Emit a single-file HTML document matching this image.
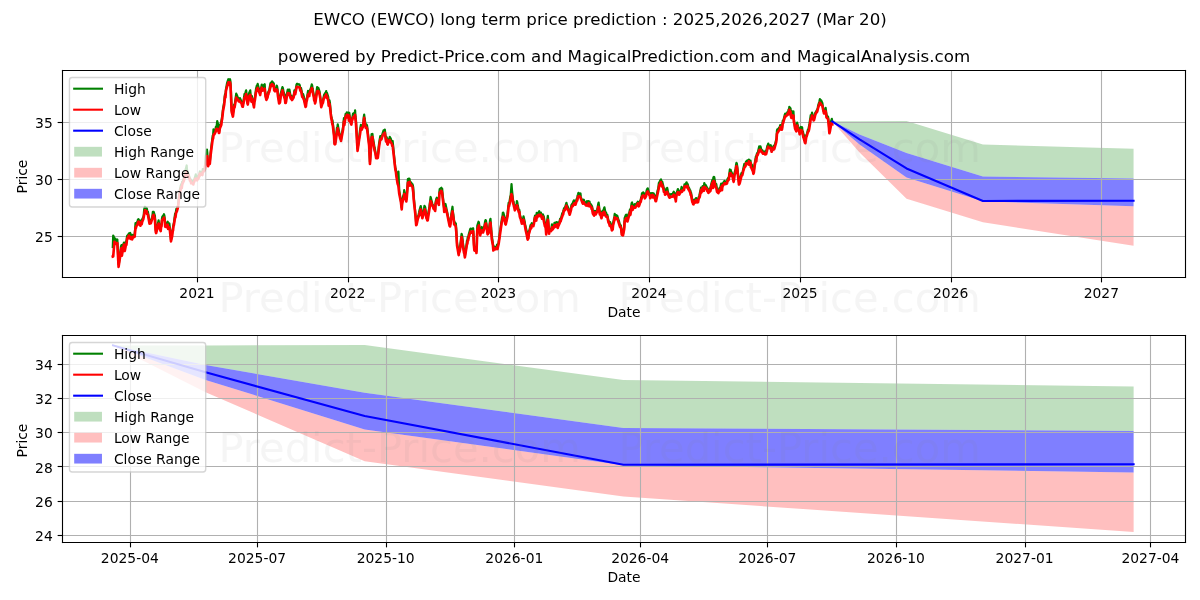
<!DOCTYPE html>
<html lang="en"><head><meta charset="utf-8"><title>EWCO (EWCO) long term price prediction</title>
<style>html,body{margin:0;padding:0;background:#fff;overflow:hidden}body{width:1200px;height:600px;font-family:"DejaVu Sans","Liberation Sans",sans-serif}</style>
</head><body>
<svg width="1200" height="600" viewBox="0 0 864 432" style="display:block">
 <defs>
  <style type="text/css">*{stroke-linejoin: round; stroke-linecap: butt}</style>
 </defs>
 <g id="figure_1">
  <g id="patch_1">
   <path d="M 0 432 L 864 432 L 864 0 L 0 0 z" style="fill: #ffffff"/>
  </g>
  <g id="axes_1">
   <g id="patch_2">
    <path d="M 45 199.8 L 853.56 199.8 L 853.56 50.76 L 45 50.76 z" style="fill: #ffffff"/>
   </g>
   <g id="FillBetweenPolyCollection_1">
    <path d="M 599.216895 87.383032 L 599.216895 87.383032 L 618.882944 96.847326 L 652.704892 110.106947 L 707.700101 127.065811 L 816.1663 128.459032 L 816.1663 107.080295 L 816.1663 107.080295 L 707.700101 104.0056 L 652.704892 87.190863 L 618.882944 87.383032 L 599.216895 87.383032 z" clip-path="url(#p7041bff4be)" style="fill: #008000; fill-opacity: 0.25"/>
   </g>
   <g id="FillBetweenPolyCollection_2">
    <path d="M 599.216895 87.383032 L 599.216895 87.383032 L 618.882944 109.866737 L 652.704892 143.015789 L 707.700101 159.974653 L 816.1663 177.0296 L 816.1663 148.444547 L 816.1663 148.444547 L 707.700101 144.985516 L 652.704892 127.786442 L 618.882944 103.957558 L 599.216895 87.383032 z" clip-path="url(#p7041bff4be)" style="fill: #ff0000; fill-opacity: 0.25"/>
   </g>
   <g id="FillBetweenPolyCollection_3">
    <path d="M 599.216895 87.383032 L 599.216895 87.383032 L 618.882944 103.957558 L 652.704892 127.786442 L 707.700101 144.985516 L 816.1663 148.444547 L 816.1663 128.459032 L 816.1663 128.459032 L 707.700101 127.065811 L 652.704892 110.106947 L 618.882944 96.847326 L 599.216895 87.383032 z" clip-path="url(#p7041bff4be)" style="fill: #0000ff; fill-opacity: 0.5"/>
   </g>
   <g id="matplotlib.axis_1">
    <g id="xtick_1">
     <g id="line2d_1">
      <path d="M 142.2 199.8 L 142.2 50.76" clip-path="url(#p7041bff4be)" style="fill: none; stroke: #b0b0b0; stroke-width: 0.8; stroke-linecap: square"/>
     </g>
     <g id="line2d_2">
      <defs>
       <path id="ma3ecc90616" d="M 0 0 L 0 3.5" style="stroke: #000000; stroke-width: 0.8"/>
      </defs>
      <g>
       <use href="#ma3ecc90616" x="142.2" y="199.8" style="stroke: #000000; stroke-width: 0.8"/>
      </g>
     </g>
     <g id="text_1">
      <text style="font-size: 10px; font-family: 'DejaVu Sans', 'Liberation Sans', sans-serif; text-anchor: middle" x="141.84" y="214.398438" transform="rotate(0 141.84 214.398438)">2021</text>
     </g>
    </g>
    <g id="xtick_2">
     <g id="line2d_3">
      <path d="M 250.92 199.8 L 250.92 50.76" clip-path="url(#p7041bff4be)" style="fill: none; stroke: #b0b0b0; stroke-width: 0.8; stroke-linecap: square"/>
     </g>
     <g id="line2d_4">
      <g>
       <use href="#ma3ecc90616" x="250.92" y="199.8" style="stroke: #000000; stroke-width: 0.8"/>
      </g>
     </g>
     <g id="text_2">
      <text style="font-size: 10px; font-family: 'DejaVu Sans', 'Liberation Sans', sans-serif; text-anchor: middle" x="250.314702" y="214.398438" transform="rotate(0 250.314702 214.398438)">2022</text>
     </g>
    </g>
    <g id="xtick_3">
     <g id="line2d_5">
      <path d="M 358.92 199.8 L 358.92 50.76" clip-path="url(#p7041bff4be)" style="fill: none; stroke: #b0b0b0; stroke-width: 0.8; stroke-linecap: square"/>
     </g>
     <g id="line2d_6">
      <g>
       <use href="#ma3ecc90616" x="358.92" y="199.8" style="stroke: #000000; stroke-width: 0.8"/>
      </g>
     </g>
     <g id="text_3">
      <text style="font-size: 10px; font-family: 'DejaVu Sans', 'Liberation Sans', sans-serif; text-anchor: middle" x="358.789405" y="214.398438" transform="rotate(0 358.789405 214.398438)">2023</text>
     </g>
    </g>
    <g id="xtick_4">
     <g id="line2d_7">
      <path d="M 467.64 199.8 L 467.64 50.76" clip-path="url(#p7041bff4be)" style="fill: none; stroke: #b0b0b0; stroke-width: 0.8; stroke-linecap: square"/>
     </g>
     <g id="line2d_8">
      <g>
       <use href="#ma3ecc90616" x="467.64" y="199.8" style="stroke: #000000; stroke-width: 0.8"/>
      </g>
     </g>
     <g id="text_4">
      <text style="font-size: 10px; font-family: 'DejaVu Sans', 'Liberation Sans', sans-serif; text-anchor: middle" x="467.264107" y="214.398438" transform="rotate(0 467.264107 214.398438)">2024</text>
     </g>
    </g>
    <g id="xtick_5">
     <g id="line2d_9">
      <path d="M 576.36 199.8 L 576.36 50.76" clip-path="url(#p7041bff4be)" style="fill: none; stroke: #b0b0b0; stroke-width: 0.8; stroke-linecap: square"/>
     </g>
     <g id="line2d_10">
      <g>
       <use href="#ma3ecc90616" x="576.36" y="199.8" style="stroke: #000000; stroke-width: 0.8"/>
      </g>
     </g>
     <g id="text_5">
      <text style="font-size: 10px; font-family: 'DejaVu Sans', 'Liberation Sans', sans-serif; text-anchor: middle" x="576.036" y="214.398438" transform="rotate(0 576.036 214.398438)">2025</text>
     </g>
    </g>
    <g id="xtick_6">
     <g id="line2d_11">
      <path d="M 685.08 199.8 L 685.08 50.76" clip-path="url(#p7041bff4be)" style="fill: none; stroke: #b0b0b0; stroke-width: 0.8; stroke-linecap: square"/>
     </g>
     <g id="line2d_12">
      <g>
       <use href="#ma3ecc90616" x="685.08" y="199.8" style="stroke: #000000; stroke-width: 0.8"/>
      </g>
     </g>
     <g id="text_6">
      <text style="font-size: 10px; font-family: 'DejaVu Sans', 'Liberation Sans', sans-serif; text-anchor: middle" x="684.510702" y="214.398438" transform="rotate(0 684.510702 214.398438)">2026</text>
     </g>
    </g>
    <g id="xtick_7">
     <g id="line2d_13">
      <path d="M 793.08 199.8 L 793.08 50.76" clip-path="url(#p7041bff4be)" style="fill: none; stroke: #b0b0b0; stroke-width: 0.8; stroke-linecap: square"/>
     </g>
     <g id="line2d_14">
      <g>
       <use href="#ma3ecc90616" x="793.08" y="199.8" style="stroke: #000000; stroke-width: 0.8"/>
      </g>
     </g>
     <g id="text_7">
      <text style="font-size: 10px; font-family: 'DejaVu Sans', 'Liberation Sans', sans-serif; text-anchor: middle" x="792.985405" y="214.398438" transform="rotate(0 792.985405 214.398438)">2027</text>
     </g>
    </g>
    <g id="text_8">
     <text style="font-size: 10px; font-family: 'DejaVu Sans', 'Liberation Sans', sans-serif; text-anchor: middle" x="449.28" y="228.076562" transform="rotate(0 449.28 228.076562)">Date</text>
    </g>
   </g>
   <g id="matplotlib.axis_2">
    <g id="ytick_1">
     <g id="line2d_15">
      <path d="M 45 170.28 L 853.56 170.28" clip-path="url(#p7041bff4be)" style="fill: none; stroke: #b0b0b0; stroke-width: 0.8; stroke-linecap: square"/>
     </g>
     <g id="line2d_16">
      <defs>
       <path id="mb44dbf841d" d="M 0 0 L -3.5 0" style="stroke: #000000; stroke-width: 0.8"/>
      </defs>
      <g>
       <use href="#mb44dbf841d" x="45" y="170.28" style="stroke: #000000; stroke-width: 0.8"/>
      </g>
     </g>
     <g id="text_9">
      <text style="font-size: 10px; font-family: 'DejaVu Sans', 'Liberation Sans', sans-serif; text-anchor: end" x="38" y="174.439219" transform="rotate(0 38 174.439219)">25</text>
     </g>
    </g>
    <g id="ytick_2">
     <g id="line2d_17">
      <path d="M 45 129.24 L 853.56 129.24" clip-path="url(#p7041bff4be)" style="fill: none; stroke: #b0b0b0; stroke-width: 0.8; stroke-linecap: square"/>
     </g>
     <g id="line2d_18">
      <g>
       <use href="#mb44dbf841d" x="45" y="129.24" style="stroke: #000000; stroke-width: 0.8"/>
      </g>
     </g>
     <g id="text_10">
      <text style="font-size: 10px; font-family: 'DejaVu Sans', 'Liberation Sans', sans-serif; text-anchor: end" x="38" y="133.363219" transform="rotate(0 38 133.363219)">30</text>
     </g>
    </g>
    <g id="ytick_3">
     <g id="line2d_19">
      <path d="M 45 88.2 L 853.56 88.2" clip-path="url(#p7041bff4be)" style="fill: none; stroke: #b0b0b0; stroke-width: 0.8; stroke-linecap: square"/>
     </g>
     <g id="line2d_20">
      <g>
       <use href="#mb44dbf841d" x="45" y="88.2" style="stroke: #000000; stroke-width: 0.8"/>
      </g>
     </g>
     <g id="text_11">
      <text style="font-size: 10px; font-family: 'DejaVu Sans', 'Liberation Sans', sans-serif; text-anchor: end" x="38" y="92.287219" transform="rotate(0 38 92.287219)">35</text>
     </g>
    </g>
    <g id="text_12">
     <g transform="translate(0.504 1.8)"><text style="font-size: 10px; font-family: 'DejaVu Sans', 'Liberation Sans', sans-serif; text-anchor: middle" x="19.195312" y="125.28" transform="rotate(-90 19.195312 125.28)">Price</text></g>
    </g>
   </g>
   <g id="line2d_21">
    <path d="M 81.213043 177.87816 L 81.510234 169.56 L 82.401807 171.873031 L 82.698998 173.25122 L 82.996189 171.728082 L 83.29338 173.214513 L 83.590571 173.558994 L 84.482144 172.453961 L 85.373717 190.319503 L 85.670908 189.184708 L 87.156862 177.210491 L 87.454053 176.461878 L 87.751244 182.900823 L 88.642817 175.991776 L 88.940008 176.193076 L 89.237199 174.658907 L 89.53439 178.791252 L 89.831581 178.728688 L 90.723154 173.873714 L 91.020345 174.784109 L 91.317536 171.110175 L 91.614727 169.599155 L 91.911918 169.541541 L 92.803491 168.107914 L 93.100682 169.879905 L 93.397873 168.155275 L 93.695064 167.701056 L 93.992255 170.75228 L 94.883828 169.017402 L 95.181018 170.691356 L 95.478209 169.344325 L 95.7754 169.757149 L 96.072591 169.524287 L 96.964164 168.44899 L 97.261355 165.37381 L 97.558546 160.704256 L 97.855737 162.624747 L 98.152928 161.176146 L 99.044501 159.227581 L 99.341692 158.106261 L 99.638883 157.791617 L 99.936074 158.183241 L 100.233265 159.84174 L 101.124838 161.112413 L 101.422029 159.249477 L 101.71922 158.416203 L 102.016411 159.662987 L 102.313602 158.077858 L 103.205175 156.229059 L 103.502366 154.885379 L 103.799556 150.973295 L 104.096747 149.583486 L 104.393938 148.85954 L 105.285511 149.779241 L 105.582702 149.877892 L 105.879893 150.963554 L 106.177084 152.687163 L 106.474275 152.450843 L 107.663039 159.739818 L 107.96023 158.411351 L 108.257421 159.487458 L 108.554612 159.562311 L 109.743376 155.557502 L 110.040567 152.519348 L 110.337758 153.941304 L 110.634949 152.514769 L 111.526522 155.441149 L 112.120903 165.669779 L 112.418094 166.496228 L 112.715285 165.648267 L 114.20124 158.62902 L 114.795622 162.630546 L 115.687195 164.252727 L 115.984386 161.510521 L 116.281577 161.702897 L 116.578768 157.628561 L 116.875959 156.033246 L 117.767532 154.946031 L 118.064723 154.242686 L 118.361914 155.174437 L 118.659105 157.64362 L 118.956296 161.491746 L 119.847869 162.483956 L 120.14506 160.650397 L 120.442251 160.329699 L 120.739441 159.64186 L 121.036632 162.525955 L 121.928205 160.854745 L 122.819778 168.831528 L 123.116969 172.714803 L 124.900115 161.727099 L 125.197306 160.603506 L 126.088879 153.823101 L 126.38607 154.202672 L 126.980452 150.425397 L 127.277643 151.272685 L 128.169216 147.818839 L 128.763598 141.978567 L 129.060789 140.437776 L 129.357979 137.53744 L 130.249552 133.454535 L 130.546743 132.669221 L 130.843934 133.786449 L 131.141125 130.995323 L 131.438316 131.016868 L 132.329889 128.336286 L 132.62708 126.756871 L 132.924271 126.330626 L 133.221462 125.69408 L 133.518653 122.612276 L 134.410226 119.16 L 134.707417 123.05674 L 135.004608 123.347489 L 135.59899 124.946313 L 136.787754 128.729441 L 137.084945 128.872265 L 137.382136 129.321985 L 137.679326 130.43922 L 138.570899 130.570612 L 138.86809 130.207156 L 139.165281 131.868778 L 139.462472 129.611796 L 139.759663 129.888069 L 140.948427 125.589369 L 141.245618 127.565202 L 141.542809 128.19485 L 141.84 128.513893 L 142.731573 126.497569 L 143.028764 126.908524 L 143.623146 124.699748 L 143.920337 123.455113 L 144.81191 123.940586 L 145.406292 124.809385 L 145.703483 123.9329 L 146.000674 121.796221 L 146.892246 121.904994 L 147.189437 121.728001 L 147.486628 120.746445 L 147.783819 117.775343 L 148.08101 112.757299 L 148.972583 107.64 L 149.269774 110.01169 L 149.566965 115.846672 L 149.864156 118.421323 L 150.161347 117.443704 L 151.05292 116.775 L 151.647302 109.860845 L 153.133257 97.688342 L 153.430448 97.686007 L 153.727639 93.094598 L 154.322021 95.490889 L 155.213593 92.532893 L 155.510784 91.086859 L 155.807975 92.49584 L 156.402357 87.12 L 157.29393 90.728262 L 157.591121 94.669722 L 157.888312 94.075259 L 158.185503 91.365918 L 159.374267 87.394614 L 160.26584 81.429827 L 160.563031 78.347078 L 161.454604 73.203168 L 161.751795 69.743073 L 162.048986 67.701104 L 162.346177 68.539979 L 162.643368 64.592393 L 163.53494 59.584468 L 164.426513 57.024 L 164.723704 58.886979 L 165.615277 57.024 L 165.912468 58.51057 L 166.209659 62.992295 L 166.804041 79.663319 L 167.695614 81.445142 L 168.289996 78.210509 L 168.587187 75.36818 L 168.884378 76.307954 L 170.073142 67.38416 L 170.370333 68.894354 L 170.667524 68.517792 L 170.964715 69.772193 L 171.856287 71.406978 L 172.153478 71.404609 L 172.450669 71.599675 L 172.74786 70.689922 L 173.045051 71.16556 L 174.531006 74.786325 L 174.828197 75.022686 L 175.125388 74.2362 L 176.016961 67.780399 L 176.314152 67.671649 L 176.611343 67.369056 L 176.908534 65.960367 L 177.205725 65.102629 L 178.097298 72.965093 L 178.394489 74.111189 L 178.69168 72.515277 L 179.286062 67.276447 L 180.177634 65.026741 L 180.772016 71.574486 L 181.366398 69.211825 L 182.852353 75.948774 L 183.149544 72.350324 L 183.446735 71.047651 L 184.338308 63.94756 L 184.93269 61.632049 L 185.229881 61.576089 L 185.527072 60.436149 L 186.715836 65.059807 L 187.310218 66.927956 L 188.498982 60.855255 L 188.796172 63.27448 L 189.093363 62.738188 L 189.390554 63.403926 L 189.687745 61.637062 L 190.579318 60.66177 L 190.876509 65.475162 L 191.1737 68.068583 L 191.470891 69.085849 L 191.768082 70.900234 L 192.659655 68.488675 L 192.956846 66.552395 L 193.254037 66.830319 L 193.551228 65.339267 L 193.848419 65.026508 L 194.739992 59.960945 L 195.037183 59.488701 L 195.334374 60.296769 L 195.631565 60.057192 L 195.928756 58.602639 L 197.11752 60.015899 L 197.41471 63.85509 L 197.711901 63.29762 L 198.009092 63.823974 L 198.900665 63.37298 L 199.197856 61.62841 L 199.495047 62.184021 L 199.792238 63.918225 L 200.089429 66.519381 L 200.981002 72.661063 L 201.278193 73.139355 L 201.872575 70.442052 L 202.169766 67.10697 L 203.35853 62.72412 L 203.655721 63.406447 L 204.250103 66.536756 L 205.141676 69.142358 L 205.438867 73.140503 L 205.736057 72.998875 L 206.033248 71.248165 L 206.330439 68.607188 L 207.222012 64.485827 L 207.519203 65.58604 L 207.816394 65.911509 L 208.113585 64.543548 L 208.410776 64.587117 L 209.302349 69.84197 L 209.59954 68.744179 L 210.193922 70.500345 L 211.382686 69.168824 L 211.679877 67.4464 L 211.977068 65.000343 L 212.274259 65.156192 L 212.57145 66.69837 L 213.463023 61.070432 L 213.760214 60.418089 L 214.057405 60.326325 L 214.354595 60.367346 L 214.651786 60.830995 L 215.543359 60.826991 L 215.84055 61.518341 L 216.137741 63.481351 L 216.434932 63.970477 L 216.732123 63.360637 L 217.920887 69.020392 L 218.218078 67.78678 L 218.81246 69.66745 L 220.001224 75.730121 L 220.298415 74.892131 L 220.595606 71.619903 L 220.892797 71.222754 L 221.78437 65.419745 L 222.081561 66.127848 L 222.378752 66.20832 L 222.675943 67.002569 L 222.973133 65.559849 L 223.864706 63.393368 L 224.459088 60.769772 L 224.756279 61.500473 L 225.05347 63.750671 L 226.242234 70.189769 L 226.539425 70.038345 L 226.836616 72.941019 L 227.133807 72.012245 L 228.322571 62.802431 L 228.619762 64.091499 L 228.916953 64.624298 L 229.214144 63.184444 L 230.105717 65.897692 L 231.29448 75.652741 L 232.483244 72.466069 L 233.374817 68.259885 L 234.26639 66.809857 L 234.563581 66.676852 L 234.860772 65.553242 L 235.157963 68.662826 L 235.455154 66.92693 L 236.346727 69.886498 L 236.643918 73.589614 L 236.941109 72.10321 L 237.2383 72.332957 L 237.535491 74.011484 L 238.427064 83.635931 L 238.724255 84.521192 L 239.021446 86.727585 L 239.318637 86.420321 L 239.615828 88.254422 L 240.5074 96.691461 L 240.804591 102.241472 L 241.101782 102.65508 L 241.398973 102.62275 L 241.696164 100.39988 L 242.587737 92.120928 L 242.884928 92.060107 L 243.182119 89.548187 L 243.776501 92.942825 L 244.965265 99.002971 L 245.262456 98.580553 L 245.559647 100.281336 L 245.856838 98.039766 L 247.045602 91.132162 L 247.639984 85.0183 L 247.937175 88.374754 L 248.828747 82.120984 L 249.125938 81.953026 L 249.423129 82.023527 L 249.72032 80.926584 L 250.017511 83.418216 L 250.909084 81.026884 L 251.206275 84.638916 L 251.503466 81.246644 L 252.097848 86.604472 L 252.989421 88.344848 L 253.583803 84.860581 L 253.880994 83.813704 L 254.178185 81.84294 L 255.069758 81.293689 L 255.366949 82.30268 L 255.66414 79.446376 L 255.961331 84.036509 L 256.258522 85.87748 L 257.447285 107.121588 L 258.041667 103.588417 L 259.230431 93.472845 L 259.824813 89.868528 L 260.419195 91.496469 L 261.310768 89.912083 L 261.607959 87.79031 L 261.90515 84.36004 L 262.202341 82.508224 L 262.499532 85.330225 L 263.391105 90.82882 L 263.688296 90.160164 L 263.985487 89.772386 L 264.282678 90.48243 L 264.579869 92.79077 L 265.768632 103.604686 L 266.363014 116.68316 L 266.660205 112.644927 L 267.551778 96.650392 L 267.848969 96.875871 L 268.14616 96.379367 L 268.443351 99.495173 L 268.740542 100.344268 L 269.632115 106.090028 L 269.929306 107.219215 L 270.820879 112.585144 L 271.712452 111.988811 L 272.009643 112.639514 L 272.604025 106.362029 L 272.901216 103.445193 L 273.792789 98.051557 L 274.089979 98.015347 L 274.684361 98.968256 L 274.981552 97.758268 L 276.170316 93.843515 L 276.467507 94.2254 L 276.764698 93.626998 L 277.061889 93.310498 L 277.953462 100.531121 L 278.250653 98.511622 L 278.547844 99.227969 L 278.845035 101.807729 L 279.142226 103.097995 L 280.033799 100.16635 L 280.33099 99.898112 L 280.628181 98.537075 L 280.925372 99.545038 L 281.222563 99.474333 L 282.114136 102.280622 L 282.411326 102.254669 L 282.708517 101.604631 L 284.491663 119.598439 L 284.788854 121.555106 L 285.086045 122.720615 L 286.274809 130.596575 L 286.572 128.265686 L 286.869191 123.48 L 287.463573 137.242393 L 288.652337 144.464389 L 289.246719 149.542864 L 289.54391 145.240055 L 290.435483 140.560819 L 290.732674 140.379986 L 291.029864 136.947573 L 291.624246 140.034075 L 292.515819 143.451938 L 292.81301 141.897579 L 293.704583 128.963238 L 294.596156 128.637512 L 294.893347 128.916959 L 295.190538 131.94746 L 295.487729 131.44424 L 295.78492 131.183478 L 296.676493 132.504363 L 296.973684 132.614547 L 297.270875 133.562714 L 297.568066 135.283618 L 297.865257 140.966355 L 299.351211 156.67901 L 299.648402 160.601457 L 299.945593 160.078798 L 300.837166 155.707277 L 301.134357 155.714235 L 301.728739 152.950377 L 302.02593 151.390336 L 302.917503 148.359436 L 303.214694 149.893489 L 303.511885 153.793666 L 303.809076 154.229334 L 304.106267 155.866051 L 305.295031 150.296905 L 305.592222 148.180222 L 306.186604 149.296 L 307.078177 156.387188 L 307.375368 154.915822 L 307.672559 157.723952 L 307.969749 157.313619 L 308.26694 154.052556 L 309.158513 148.933745 L 309.752895 144.064681 L 310.050086 141.824704 L 311.23885 146.600747 L 311.833232 147.921874 L 312.130423 149.14121 L 312.427614 148.388828 L 313.319187 150.919627 L 313.616378 145.522891 L 314.21076 142.89938 L 314.507951 142.358845 L 315.399524 144.270932 L 315.696715 145.739797 L 315.993906 145.899939 L 316.291097 138.586884 L 316.588287 136.165143 L 317.777051 135.184723 L 318.074242 135.798324 L 318.371433 135.913698 L 318.668624 139.645593 L 319.857388 151.10792 L 320.45177 147.699979 L 320.748961 146.879053 L 322.234916 153.982641 L 322.829298 156.948249 L 323.720871 161.379655 L 324.018062 161.746713 L 324.315253 160.257114 L 324.612444 157.91784 L 324.909634 154.406021 L 325.801207 148.850368 L 326.098398 152.471936 L 326.395589 154.188118 L 326.989971 159.351333 L 327.881544 160.808296 L 328.178735 160.781571 L 328.475926 164.169968 L 329.070308 175.311627 L 329.961881 179.741359 L 330.259072 182.622401 L 330.556263 180.205883 L 330.853454 180.138684 L 331.150645 178.53893 L 332.339409 168.354846 L 332.6366 169.265556 L 332.933791 170.908212 L 333.230982 174.241231 L 334.122554 180.476104 L 334.419745 180.793959 L 334.716936 184.358167 L 335.014127 181.903366 L 335.311318 180.931807 L 336.202891 173.176304 L 336.500082 173.137056 L 336.797273 170.817121 L 337.094464 171.764568 L 337.391655 169.298828 L 338.580419 164.93212 L 338.87761 164.615676 L 339.174801 164.646727 L 339.471992 165.169602 L 340.363565 165.542825 L 340.660756 164.343466 L 340.957947 168.872375 L 341.255138 175.970046 L 341.552329 179.319929 L 342.443901 179.551994 L 342.741092 178.100818 L 343.038283 180.782735 L 343.335474 174.244104 L 343.632665 162.665481 L 344.524238 159.659227 L 344.821429 160.147315 L 345.713002 168.176853 L 346.604575 163.909961 L 346.901766 163.472981 L 347.198957 164.894767 L 347.496148 165.254326 L 347.793339 166.05919 L 348.684912 162.955053 L 349.279294 159.413874 L 349.576485 158.415629 L 349.873676 158.712577 L 351.062439 166.812959 L 351.35963 167.334838 L 351.656821 165.711755 L 351.954012 166.189997 L 352.845585 158.548969 L 353.142776 157.521115 L 354.034349 169.056739 L 355.223113 177.854713 L 355.520304 178.052581 L 355.817495 177.429546 L 356.114686 178.066405 L 357.006259 177.768318 L 357.30345 177.394614 L 357.600641 177.42494 L 357.897832 176.071975 L 358.195023 178.35495 L 359.086595 174.125664 L 359.978168 166.574947 L 360.275359 165.214939 L 361.464123 156.7999 L 361.761314 155.922991 L 362.058505 153.156365 L 362.355696 153.060253 L 363.247269 156.114881 L 363.54446 158.390549 L 363.841651 159.448088 L 364.138842 159.87352 L 364.436033 159.129865 L 365.327606 154.781717 L 366.219179 146.101632 L 366.51637 147.416781 L 367.407943 141.532334 L 367.705133 140.687039 L 368.299515 132.48 L 368.596706 136.502491 L 369.488279 145.092746 L 369.78547 145.101688 L 370.082661 147.82174 L 370.379852 148.355847 L 370.677043 150.398479 L 371.568616 147.610656 L 371.865807 147.856627 L 372.162998 144.75148 L 372.460189 145.728353 L 372.75738 147.80921 L 373.648953 151.876126 L 373.946144 151.253357 L 374.243335 154.465399 L 374.540526 155.088505 L 374.837717 156.426808 L 376.02648 159.39572 L 376.323671 159.269048 L 376.918053 155.772603 L 377.809626 159.789695 L 378.106817 161.91271 L 378.404008 162.796252 L 378.99839 165.629683 L 379.889963 171.467316 L 380.187154 170.754485 L 380.484345 169.458854 L 380.781536 166.474942 L 381.078727 166.450785 L 381.9703 162.242771 L 382.267491 161.692109 L 382.564682 161.792701 L 382.861873 160.726287 L 383.159064 161.444295 L 384.050637 161.47293 L 384.347828 160.524626 L 384.645018 158.215587 L 385.2394 155.19925 L 386.130973 156.373433 L 386.428164 153.33785 L 387.022546 154.939218 L 387.319737 153.685533 L 388.21131 152.045958 L 388.508501 153.613373 L 388.805692 153.24139 L 389.102883 153.753392 L 389.400074 153.057654 L 390.291647 156.459278 L 390.588838 154.835349 L 390.886029 154.392628 L 391.18322 155.328657 L 391.480411 155.723155 L 392.371984 161.141207 L 392.669175 162.131765 L 392.966366 161.933325 L 393.263556 167.340817 L 393.560747 161.701137 L 394.45232 155.342944 L 394.749511 158.573956 L 395.343893 166.94268 L 395.641084 164.61842 L 396.532657 165.145806 L 396.829848 164.904281 L 397.127039 163.746201 L 397.42423 161.492469 L 397.721421 164.271056 L 398.612994 162.666253 L 398.910185 162.455644 L 399.207376 160.433261 L 399.504567 160.835514 L 399.801758 160.409235 L 400.990522 159.919609 L 401.584903 162.351552 L 401.882094 161.815654 L 403.070858 158.637036 L 403.368049 157.377631 L 403.66524 157.931583 L 403.962431 157.042274 L 404.854004 153.583233 L 405.151195 153.39848 L 405.745577 151.647269 L 406.042768 150.056428 L 406.934341 149.02536 L 407.825914 146.026992 L 408.123105 147.429435 L 409.014678 149.3659 L 409.60906 151.552719 L 409.906251 152.135647 L 410.203441 153.247252 L 411.095014 149.85967 L 411.392205 147.727132 L 411.986587 146.818374 L 412.283778 146.37362 L 413.175351 144.273954 L 413.769733 145.450057 L 414.066924 144.64509 L 414.364115 145.995965 L 415.255688 143.109786 L 415.552879 143.369369 L 415.85007 140.912129 L 416.147261 140.080514 L 416.444452 138.88407 L 417.336025 139.812237 L 417.633216 139.395989 L 417.930407 139.291018 L 418.227598 141.770661 L 418.524789 143.08245 L 419.416361 144.120715 L 419.713552 145.173506 L 420.307934 143.763895 L 420.605125 144.519177 L 421.496698 146.059624 L 421.793889 145.849261 L 422.388271 146.866504 L 422.685462 144.754653 L 423.577035 146.754748 L 423.874226 144.826493 L 424.171417 145.5822 L 424.468608 145.235103 L 424.765799 146.933572 L 425.657372 147.330517 L 425.954563 148.800826 L 426.251754 148.441853 L 426.846136 151.778637 L 427.737708 154.095696 L 428.034899 152.485749 L 428.33209 151.763054 L 428.629281 152.147125 L 428.926472 153.003163 L 429.818045 151.545337 L 430.115236 150.564856 L 430.709618 146.900252 L 431.006809 145.812804 L 431.898382 153.472935 L 432.195573 152.172225 L 433.087146 155.891327 L 433.978719 151.583901 L 434.27591 153.020552 L 434.573101 152.4828 L 434.870292 150.060106 L 435.167483 149.2665 L 436.059055 153.67476 L 436.356246 153.007094 L 436.653437 154.418202 L 436.950628 154.903086 L 437.247819 154.653282 L 438.139392 159.138965 L 438.436583 159.347465 L 438.733774 160.549109 L 439.328156 159.914157 L 440.219729 162.856538 L 440.51692 164.528988 L 440.814111 163.565009 L 441.111302 163.641766 L 441.408493 160.695517 L 442.300066 156.216513 L 442.597257 154.062282 L 442.894448 155.943794 L 443.48883 154.84019 L 444.380402 155.301712 L 445.271975 158.247775 L 445.569166 158.826634 L 446.460739 162.321428 L 446.75793 162.026644 L 447.055121 162.57549 L 447.352312 164.630282 L 447.649503 167.594126 L 448.541076 168.517322 L 449.135458 164.80774 L 449.432649 163.454618 L 449.72984 157.070721 L 450.621413 154.823822 L 450.918604 154.569822 L 451.215795 157.999065 L 451.512986 157.34775 L 451.810177 157.755839 L 452.701749 153.654008 L 452.99894 154.366007 L 453.296131 152.164616 L 453.593322 150.80882 L 453.890513 152.673294 L 454.782086 146.251343 L 455.079277 145.822137 L 455.376468 149.551462 L 455.673659 149.441845 L 455.97085 148.228663 L 456.862423 147.020485 L 457.159614 148.342582 L 457.753996 147.482661 L 458.051187 146.871806 L 458.94276 145.836621 L 459.239951 145.220491 L 459.834333 147.013958 L 460.131524 146.93965 L 461.023097 144.461437 L 461.320287 143.982763 L 461.617478 142.122501 L 461.914669 142.130937 L 462.21186 139.154367 L 463.103433 138.457547 L 463.400624 139.652655 L 463.697815 139.154945 L 464.292197 141.232538 L 465.18377 139.923033 L 465.480961 137.651062 L 465.778152 136.416241 L 466.075343 135.900022 L 466.372534 135.621477 L 467.264107 138.720822 L 467.858489 138.931624 L 468.15568 141.681188 L 468.452871 139.251467 L 469.641634 139.09127 L 469.938825 140.732227 L 470.533207 139.183563 L 471.42478 140.934792 L 471.721971 141.89233 L 472.019162 143.732646 L 472.316353 143.822097 L 472.613544 141.560207 L 473.505117 136.942285 L 473.802308 136.56471 L 474.39669 131.690132 L 474.693881 131.355433 L 475.585454 129.50065 L 475.882645 129.148273 L 476.477027 132.452638 L 476.774218 130.67307 L 477.665791 134.319182 L 477.962982 136.522025 L 478.260172 136.863417 L 478.557363 135.847134 L 478.854554 138.210826 L 479.746127 138.691983 L 480.043318 137.892135 L 480.340509 135.213135 L 480.6377 136.498843 L 480.934891 138.354938 L 482.123655 140.954758 L 482.420846 140.901474 L 482.718037 140.437561 L 483.015228 139.686267 L 483.906801 139.687898 L 484.203992 140.197734 L 484.798374 138.5749 L 485.095565 137.989389 L 485.987138 141.436955 L 486.284329 140.172624 L 486.58152 143.856511 L 486.87871 139.064631 L 487.175901 138.949986 L 488.067474 136.153044 L 488.364665 137.562343 L 488.661856 137.537627 L 488.959047 138.971405 L 489.256238 138.6298 L 490.445002 136.149957 L 490.742193 134.53466 L 491.336575 135.956288 L 492.228148 135.21073 L 492.525339 135.194173 L 492.82253 132.753641 L 493.119721 133.665172 L 493.416912 133.146901 L 494.308485 131.270842 L 494.605676 133.14108 L 494.902867 132.216826 L 495.200057 132.857509 L 495.497248 134.212061 L 496.388821 135.969379 L 496.686012 136.987435 L 496.983203 136.987672 L 497.280394 138.267622 L 497.577585 138.763098 L 498.469158 144.230468 L 499.360731 145.746162 L 499.657922 143.810592 L 500.549495 143.587759 L 500.846686 143.218427 L 501.143877 142.618936 L 501.441068 143.62527 L 501.738259 144.020781 L 502.629832 144.085187 L 502.927023 142.330625 L 503.521405 140.780475 L 504.710168 135.160333 L 505.007359 137.103462 L 505.30455 136.279134 L 505.601741 134.716562 L 505.898932 133.993975 L 506.790505 134.902659 L 507.087696 131.78882 L 507.384887 133.081541 L 507.682078 133.80843 L 507.979269 133.084241 L 508.870842 134.618764 L 509.168033 135.818936 L 509.465224 135.524288 L 510.059606 137.474339 L 510.951179 136.830562 L 511.24837 135.647565 L 511.545561 135.249694 L 512.139943 132.408505 L 513.031515 129.324873 L 513.328706 132.792978 L 513.625897 127.883993 L 513.923088 127.400349 L 514.220279 127.474229 L 515.409043 134.110875 L 515.706234 132.560746 L 516.300616 136.407446 L 517.192189 137.587967 L 517.48938 136.627586 L 517.786571 136.177391 L 518.083762 135.370507 L 518.380953 136.126782 L 519.272526 132.174677 L 519.866908 135.172128 L 520.164099 132.168867 L 520.46129 132.068516 L 521.650053 130.255866 L 521.947244 130.463419 L 522.244435 131.007868 L 523.433199 131.207465 L 523.73039 129.15351 L 524.027581 128.478739 L 524.324772 128.799434 L 524.621963 128.631888 L 525.513536 122.024301 L 525.810727 124.213625 L 526.107918 122.348136 L 526.405109 124.028226 L 526.7023 123.953881 L 527.891064 127.767562 L 528.188255 129.744046 L 528.485446 127.784917 L 528.782637 124.811486 L 529.674209 121.507975 L 529.9714 118.459074 L 530.268591 117.251604 L 530.565782 117.940598 L 530.862973 120.123857 L 532.051737 131.091725 L 532.646119 130.001694 L 533.834883 124.731347 L 534.132074 124.981818 L 534.429265 124.653152 L 534.726456 124.036399 L 535.023647 122.230771 L 535.91522 118.06265 L 536.212411 118.162361 L 536.509602 118.753573 L 536.806793 118.278054 L 537.103984 116.485568 L 537.995556 115.515748 L 538.292747 115.583551 L 538.589938 116.496326 L 538.887129 116.466996 L 539.18432 114.870211 L 540.075893 116.971267 L 540.373084 115.602942 L 540.670275 119.26428 L 540.967466 119.423389 L 541.264657 118.474882 L 542.15623 121.944103 L 542.453421 124.103843 L 542.750612 123.092157 L 543.344994 118.027025 L 544.236567 112.549032 L 544.533758 113.710515 L 544.830949 111.318273 L 545.12814 110.190529 L 545.425331 110.753218 L 546.614094 105.423325 L 546.911285 106.031698 L 547.208476 107.174748 L 547.505667 105.318216 L 548.39724 108.53945 L 548.694431 108.794153 L 548.991622 108.362722 L 549.288813 109.454792 L 549.586004 109.191395 L 550.774768 109.171539 L 551.071959 109.789656 L 551.36915 108.560832 L 551.666341 109.009238 L 552.557914 104.723309 L 552.855105 104.426019 L 553.152296 103.354091 L 553.449487 105.009314 L 553.746678 104.566663 L 554.638251 105.209108 L 554.935441 104.585054 L 555.529823 107.797748 L 555.827014 106.363304 L 556.718587 106.647471 L 557.015778 105.080316 L 557.312969 106.069138 L 557.61016 104.46001 L 557.907351 104.356293 L 559.096115 99.548129 L 559.393306 94.217299 L 559.690497 93.072648 L 559.987688 93.43359 L 560.879261 91.951155 L 561.176452 91.800147 L 561.473643 91.273544 L 561.770834 90.094762 L 562.068025 91.675896 L 562.959598 92.36662 L 563.553979 87.057825 L 563.85117 87.361749 L 564.148361 86.333702 L 565.039934 82.56008 L 565.337125 81.802515 L 565.931507 82.54742 L 566.228698 82.194313 L 567.120271 80.507474 L 567.417462 81.262498 L 567.714653 78.967528 L 568.011844 80.061719 L 568.309035 76.897193 L 569.200608 78.085747 L 569.497799 82.603599 L 569.79499 83.869659 L 570.092181 80.077225 L 570.389372 81.785741 L 571.280945 80.287107 L 571.578136 85.823116 L 572.469708 91.537071 L 573.361281 93.101912 L 573.658472 91.827471 L 573.955663 88.318907 L 574.550045 90.973216 L 575.441618 93.142073 L 575.738809 95.336575 L 576.036 92.889732 L 576.333191 93.021915 L 576.630382 91.402507 L 577.521955 91.710743 L 577.819146 94.954657 L 578.116337 94.7539 L 578.413528 96.263635 L 578.710719 96.994119 L 579.602292 101.146894 L 579.899483 101.863876 L 580.493864 97.369311 L 580.791055 97.161357 L 581.682628 93.375756 L 581.979819 93.643981 L 582.871392 88.699581 L 583.762965 82.811605 L 584.060156 83.132666 L 584.357347 82.684449 L 584.654538 81.089202 L 584.951729 83.184886 L 585.843302 85.446 L 586.140493 84.877015 L 586.734875 81.752464 L 588.518021 78.646139 L 588.815211 77.578848 L 589.112402 75.775266 L 590.003975 72.901796 L 590.301166 71.420987 L 590.598357 72.941317 L 590.895548 72.786493 L 591.192739 72.211361 L 592.084312 74.092667 L 592.975885 79.891622 L 593.273076 79.694527 L 594.164649 79.553331 L 594.46184 77.632066 L 595.056222 82.312647 L 595.353413 83.074833 L 596.244986 84.139324 L 596.839368 89.817318 L 597.136559 94.682503 L 597.433749 92.998868 L 598.325322 87.29986 L 598.919704 85.623211 L 599.216895 87.153783 L 599.216895 87.153783" clip-path="url(#p7041bff4be)" style="fill: none; stroke: #008000; stroke-width: 1.6; stroke-linecap: square"/>
   </g>
   <g id="line2d_22">
    <path d="M 81.213043 184.68 L 81.510234 184.596617 L 82.401807 174.186063 L 82.698998 175.495617 L 82.996189 174.577328 L 83.29338 175.356117 L 83.590571 175.591848 L 84.482144 175.105484 L 85.373717 192.145447 L 86.56248 184.359765 L 87.156862 179.78481 L 87.454053 178.560578 L 87.751244 184.138371 L 88.642817 178.054312 L 88.940008 177.761053 L 89.237199 176.132925 L 89.53439 179.839017 L 89.831581 180.672947 L 90.723154 176.119426 L 91.020345 176.286161 L 91.317536 173.381276 L 91.614727 171.598063 L 91.911918 171.956523 L 92.803491 169.598604 L 93.100682 171.524969 L 93.397873 170.48143 L 93.695064 170.496144 L 93.992255 171.975373 L 94.883828 170.825726 L 95.181018 172.375724 L 95.478209 170.448836 L 95.7754 171.259383 L 96.072591 170.740018 L 96.964164 170.423185 L 97.558546 163.944373 L 97.855737 164.143587 L 98.152928 162.851033 L 99.044501 161.579552 L 99.341692 160.081675 L 99.638883 159.530937 L 99.936074 159.614717 L 100.233265 161.258688 L 101.124838 162.492517 L 101.422029 160.842249 L 101.71922 160.001951 L 102.016411 161.37141 L 102.313602 159.928713 L 103.205175 157.718334 L 104.393938 151.393031 L 105.285511 152.048977 L 105.582702 151.926523 L 105.879893 154.055622 L 106.474275 154.431999 L 107.663039 161.048562 L 107.96023 160.218199 L 108.554612 160.852807 L 109.743376 157.189477 L 110.040567 155.250342 L 110.337758 156.307375 L 110.634949 154.693413 L 111.526522 157.974603 L 112.120903 166.85365 L 112.418094 167.81132 L 113.606858 163.084853 L 113.904049 162.252054 L 114.20124 160.969679 L 114.795622 164.08464 L 115.687195 166.39144 L 115.984386 163.296131 L 116.281577 162.976085 L 116.578768 159.164948 L 116.875959 158.3251 L 117.767532 157.18824 L 118.064723 156.604425 L 118.361914 157.669365 L 118.659105 159.36997 L 118.956296 163.212312 L 119.847869 163.495889 L 120.14506 162.858127 L 120.442251 161.854726 L 120.739441 161.682904 L 121.036632 164.786977 L 121.928205 163.810834 L 122.225396 164.936357 L 123.116969 173.747782 L 124.008542 169.641287 L 124.305733 166.699907 L 124.602924 165.790723 L 124.900115 162.839619 L 125.197306 161.976083 L 126.088879 156.216205 L 126.38607 156.243683 L 126.683261 153.715229 L 126.980452 152.791438 L 127.277643 152.449783 L 128.169216 149.11623 L 129.357979 139.374571 L 130.546743 134.552047 L 130.843934 135.398185 L 131.141125 133.143308 L 131.438316 132.039212 L 132.329889 130.24188 L 132.924271 127.716357 L 133.221462 127.283684 L 133.518653 126.064552 L 134.410226 123.73237 L 134.707417 126.953481 L 135.004608 125.342909 L 135.301799 125.559062 L 135.59899 126.56537 L 136.490563 128.830061 L 136.787754 130.072834 L 137.084945 129.93502 L 137.679326 131.979624 L 138.86809 131.772937 L 139.165281 132.839514 L 139.462472 131.206223 L 139.759663 131.14036 L 140.651236 128.717885 L 140.948427 128.551319 L 141.245618 128.705928 L 141.542809 129.442037 L 141.84 129.845006 L 143.028764 128.138689 L 143.325955 126.567014 L 143.623146 126.914361 L 143.920337 124.964336 L 144.81191 125.326129 L 145.109101 125.737549 L 145.406292 125.809358 L 145.703483 126.036981 L 146.000674 123.601717 L 146.892246 123.248352 L 147.189437 122.811504 L 147.486628 121.91413 L 147.783819 119.042985 L 148.08101 117.874597 L 148.972583 112.624196 L 149.269774 112.38338 L 149.566965 117.002431 L 149.864156 119.630244 L 150.161347 118.591096 L 151.05292 117.983818 L 151.647302 111.628003 L 152.241684 106.91358 L 153.133257 100.209026 L 153.430448 99.735108 L 153.727639 97.250579 L 154.02483 96.615173 L 154.322021 96.737117 L 155.213593 94.977357 L 155.510784 93.192413 L 155.807975 94.058149 L 156.105166 92.780593 L 156.402357 92.876117 L 157.29393 94.336524 L 157.591121 95.757382 L 157.888312 95.597667 L 158.185503 92.912578 L 158.482694 91.906238 L 159.374267 89.767311 L 159.671458 86.946833 L 159.968649 85.722499 L 160.563031 80.07296 L 161.454604 75.223328 L 162.048986 69.116413 L 162.346177 70.140961 L 162.643368 65.639227 L 163.832131 61.002637 L 164.129322 60.461055 L 164.426513 59.209019 L 164.723704 61.054732 L 165.615277 59.374446 L 165.912468 60.72619 L 166.804041 80.613462 L 167.695614 83.932389 L 168.289996 79.396567 L 168.587187 76.804798 L 168.884378 77.394586 L 170.073142 70.283643 L 170.370333 71.259726 L 170.667524 70.988179 L 170.964715 71.420889 L 171.856287 72.920433 L 172.153478 72.611747 L 172.450669 73.001642 L 172.74786 72.569805 L 173.045051 73.489656 L 173.936624 74.468302 L 174.233815 75.849886 L 174.531006 76.680769 L 174.828197 76.850276 L 176.016961 70.326223 L 176.611343 69.838123 L 176.908534 68.516847 L 177.205725 67.710145 L 178.097298 74.080268 L 178.394489 75.264179 L 178.988871 71.905263 L 179.286062 69.509898 L 180.177634 68.335556 L 181.069207 73.28087 L 181.366398 70.883428 L 182.555162 75.476023 L 182.852353 77.306108 L 183.149544 73.485458 L 183.446735 72.654171 L 184.338308 66.318608 L 184.635499 65.83006 L 184.93269 64.127855 L 185.229881 64.15496 L 185.527072 63.294693 L 186.418645 65.474378 L 186.715836 66.718377 L 187.013027 67.276991 L 187.310218 68.428094 L 187.607409 66.449801 L 188.498982 63.116837 L 188.796172 65.339488 L 189.093363 64.493116 L 189.390554 65.092962 L 189.687745 64.976664 L 190.579318 63.747324 L 191.1737 69.471592 L 191.470891 70.397709 L 191.768082 71.884143 L 192.659655 70.063514 L 192.956846 68.319067 L 193.254037 67.911674 L 193.551228 66.276869 L 193.848419 66.240432 L 195.037183 61.330767 L 195.334374 61.942281 L 195.631565 61.871754 L 195.928756 60.545508 L 196.820329 61.498884 L 197.11752 61.550741 L 197.41471 65.082776 L 198.009092 65.687878 L 198.900665 64.317813 L 199.197856 64.384518 L 199.495047 64.632985 L 199.792238 66.280705 L 200.089429 68.893254 L 200.981002 74.503929 L 201.278193 74.316408 L 201.575384 73.759398 L 202.169766 68.972024 L 203.35853 65.021237 L 203.655721 65.978771 L 204.250103 68.712048 L 205.141676 71.439411 L 205.438867 74.167457 L 205.736057 74.191567 L 206.033248 72.835596 L 206.330439 70.410815 L 207.222012 67.035637 L 207.519203 68.001261 L 207.816394 68.165618 L 208.113585 67.129011 L 208.410776 67.445783 L 209.302349 70.943141 L 209.59954 69.967709 L 209.896731 70.630298 L 210.193922 72.03942 L 210.491113 71.69532 L 211.382686 70.314167 L 211.977068 66.721929 L 212.274259 66.106439 L 212.57145 67.770454 L 213.463023 63.256407 L 213.760214 62.439226 L 214.057405 62.455339 L 214.354595 62.688199 L 215.543359 62.818898 L 215.84055 62.978623 L 216.137741 65.07084 L 216.434932 65.517587 L 216.732123 65.323486 L 217.623696 69.801889 L 217.920887 70.125631 L 218.218078 70.024875 L 218.515269 71.184402 L 218.81246 71.699176 L 220.001224 76.958686 L 220.298415 76.391189 L 220.595606 73.204978 L 220.892797 72.55699 L 221.78437 68.014532 L 222.081561 68.575829 L 222.378752 68.194278 L 222.675943 69.149748 L 222.973133 66.845763 L 223.864706 64.878307 L 224.161897 64.564338 L 224.459088 63.445181 L 224.756279 63.81112 L 225.05347 65.809985 L 225.945043 69.973111 L 226.242234 72.412879 L 226.539425 71.556473 L 226.836616 74.395937 L 227.133807 73.512544 L 228.322571 65.781203 L 228.916953 66.783083 L 229.214144 65.457992 L 230.105717 67.98075 L 230.700099 71.355369 L 231.29448 77.097365 L 232.186053 74.345345 L 232.483244 74.240472 L 233.077626 71.148186 L 233.374817 70.353708 L 234.26639 68.889894 L 234.563581 68.622087 L 234.860772 67.968734 L 235.157963 70.359067 L 235.455154 69.34185 L 236.346727 72.571547 L 236.643918 76.016275 L 236.941109 74.457862 L 237.2383 74.646221 L 237.535491 76.545523 L 238.427064 84.672267 L 238.724255 85.968979 L 239.318637 89.572984 L 239.615828 90.292767 L 240.5074 98.034563 L 240.804591 103.568394 L 241.101782 103.909902 L 241.398973 103.812017 L 242.587737 95.185971 L 242.884928 94.095931 L 243.182119 92.376909 L 243.776501 95.745718 L 244.668074 98.403075 L 244.965265 99.955072 L 245.262456 100.195196 L 245.559647 101.445185 L 245.856838 99.567708 L 247.045602 93.018226 L 247.639984 87.281806 L 247.937175 90.088791 L 248.828747 83.966034 L 249.125938 84.647731 L 249.423129 84.047065 L 249.72032 82.726278 L 250.017511 84.629024 L 250.909084 82.87608 L 251.206275 86.807481 L 251.503466 83.385727 L 252.097848 87.542459 L 252.989421 89.70845 L 253.286612 87.495798 L 253.880994 85.656021 L 254.178185 84.458484 L 255.069758 83.847025 L 255.366949 84.452065 L 255.66414 82.615083 L 255.961331 86.426823 L 256.258522 88.312499 L 257.447285 108.660694 L 258.338858 102.039675 L 259.230431 96.579986 L 259.824813 92.158751 L 260.122004 92.124511 L 260.419195 93.437149 L 261.310768 91.249739 L 261.90515 87.080199 L 262.202341 84.885678 L 262.499532 88.100149 L 263.391105 92.043125 L 263.688296 91.500174 L 263.985487 91.805441 L 264.282678 92.578695 L 265.768632 104.913321 L 266.363014 118.053079 L 266.660205 113.887255 L 267.551778 98.790671 L 267.848969 99.69775 L 268.14616 98.606384 L 268.443351 101.652269 L 268.740542 102.932884 L 269.632115 108.171118 L 269.929306 108.929201 L 270.226497 110.055786 L 270.820879 113.934907 L 271.712452 113.91215 L 272.009643 113.719276 L 272.901216 105.959133 L 273.792789 100.330457 L 274.089979 100.017059 L 274.38717 100.563353 L 274.684361 100.208905 L 274.981552 98.944827 L 275.873125 96.808545 L 276.170316 96.970447 L 276.467507 96.265288 L 276.764698 96.327163 L 277.061889 95.559381 L 277.953462 102.007356 L 278.250653 100.239212 L 278.547844 100.788034 L 278.845035 103.641589 L 279.142226 104.127693 L 280.033799 101.442991 L 280.33099 102.180455 L 280.628181 100.857806 L 280.925372 101.912233 L 281.222563 102.11243 L 282.114136 103.565503 L 282.411326 105.146457 L 282.708517 104.914033 L 284.491663 120.682708 L 284.788854 122.793296 L 285.086045 124.050827 L 285.383236 126.778382 L 286.274809 132.305082 L 286.572 133.051373 L 286.869191 134.19774 L 287.463573 139.518992 L 288.652337 145.467478 L 289.246719 150.766425 L 289.54391 146.656999 L 290.435483 142.91787 L 290.732674 143.012118 L 291.029864 139.783641 L 291.327055 141.601263 L 291.624246 141.263668 L 292.515819 145.029896 L 292.81301 143.166857 L 293.704583 131.54143 L 294.893347 130.976155 L 295.190538 133.630329 L 295.487729 132.841038 L 295.78492 132.772299 L 296.676493 134.025733 L 296.973684 134.659218 L 297.568066 138.715791 L 297.865257 143.711601 L 299.054021 154.326117 L 299.648402 162.193678 L 299.945593 161.811262 L 300.837166 157.451489 L 301.134357 156.919702 L 301.431548 155.805453 L 301.728739 155.30874 L 302.02593 153.780418 L 302.917503 150.779514 L 303.214694 152.163382 L 303.511885 154.745759 L 303.809076 155.41633 L 304.106267 157.079812 L 305.592222 151.766695 L 305.889413 150.80756 L 306.186604 151.771008 L 307.078177 157.411388 L 307.375368 157.410989 L 307.672559 158.756105 L 307.969749 158.582642 L 308.26694 156.447008 L 309.455704 148.869407 L 309.752895 146.155416 L 310.050086 144.720934 L 310.347277 145.300307 L 311.23885 148.000411 L 311.536041 148.333743 L 311.833232 149.074737 L 312.130423 150.256399 L 312.427614 150.026536 L 313.319187 151.918528 L 313.616378 146.494812 L 313.913569 146.273213 L 314.21076 145.61677 L 314.507951 143.807227 L 315.399524 145.325782 L 315.696715 146.848341 L 315.993906 147.505728 L 316.291097 140.480568 L 316.588287 138.750904 L 317.47986 137.540166 L 317.777051 137.378781 L 318.074242 137.976195 L 318.371433 139.388474 L 318.668624 142.184123 L 319.560197 149.019756 L 319.857388 152.527201 L 320.154579 150.397977 L 320.45177 149.738361 L 320.748961 149.768303 L 321.937725 153.858609 L 323.720871 162.704887 L 324.018062 163.062336 L 324.315253 161.695227 L 324.909634 156.28997 L 325.801207 152.115581 L 326.098398 154.821898 L 326.69278 158.429063 L 326.989971 161.562565 L 327.881544 162.426516 L 328.178735 163.797686 L 328.475926 166.365412 L 329.070308 176.730969 L 330.259072 183.686713 L 330.556263 181.66812 L 330.853454 181.351296 L 331.150645 180.031085 L 332.042218 173.958887 L 332.339409 170.750297 L 332.6366 172.375848 L 332.933791 173.311737 L 333.230982 176.944756 L 334.122554 182.201297 L 334.419745 182.519206 L 334.716936 185.334739 L 336.202891 175.920941 L 336.500082 175.542633 L 336.797273 173.052567 L 337.094464 172.934947 L 337.391655 171.05301 L 338.283228 168.305902 L 338.580419 167.836663 L 338.87761 166.699294 L 339.174801 166.665374 L 339.471992 167.349134 L 340.363565 167.805986 L 340.660756 166.444335 L 341.255138 177.037435 L 341.552329 180.312264 L 342.443901 180.644541 L 342.741092 179.326282 L 343.038283 182.187986 L 343.335474 175.290204 L 343.632665 165.625145 L 344.821429 162.320484 L 345.415811 167.397708 L 345.713002 169.458181 L 346.604575 166.026256 L 346.901766 165.845662 L 347.198957 166.715729 L 347.496148 166.559703 L 347.793339 167.407856 L 348.684912 164.48431 L 349.279294 161.895895 L 349.576485 161.120011 L 349.873676 160.858875 L 351.062439 168.732957 L 351.35963 168.445008 L 351.656821 167.642269 L 351.954012 167.657925 L 352.845585 161.092613 L 353.142776 160.323216 L 353.439967 165.015719 L 353.737158 167.697739 L 354.034349 171.826206 L 354.925922 176.848591 L 355.223113 180.384967 L 355.817495 178.790682 L 356.114686 179.603692 L 357.006259 179.48574 L 357.30345 178.723495 L 357.600641 178.501093 L 357.897832 178.00193 L 358.195023 179.325844 L 359.086595 175.164205 L 361.166932 160.598276 L 361.761314 158.201524 L 362.058505 156.055223 L 362.355696 156.25823 L 363.247269 157.832784 L 363.841651 161.23466 L 364.138842 161.643099 L 365.327606 156.291258 L 365.921988 151.609885 L 366.219179 148.209975 L 366.51637 148.445443 L 367.705133 143.095884 L 368.002324 140.820183 L 368.299515 139.840986 L 368.596706 140.524981 L 369.488279 146.565237 L 369.78547 146.926487 L 370.082661 148.84155 L 370.379852 149.474313 L 370.677043 151.479973 L 371.568616 149.065141 L 371.865807 149.395202 L 372.162998 147.807566 L 372.460189 148.665752 L 372.75738 149.971119 L 373.648953 153.182921 L 373.946144 152.626704 L 374.243335 155.860766 L 374.540526 156.943004 L 374.837717 157.477625 L 375.72929 161.017057 L 376.02648 160.68351 L 376.323671 160.844802 L 376.620862 158.960241 L 376.918053 158.178491 L 377.809626 161.734148 L 378.404008 165.317506 L 378.99839 167.836387 L 379.889963 172.531595 L 380.187154 171.896555 L 380.484345 171.690445 L 380.781536 168.004782 L 381.078727 167.676902 L 381.9703 164.031442 L 382.267491 164.52347 L 382.564682 164.155825 L 382.861873 162.172677 L 383.159064 162.445491 L 384.050637 162.740753 L 384.347828 161.47624 L 384.942209 158.306633 L 385.2394 156.640172 L 386.130973 158.842109 L 386.428164 155.510605 L 386.725355 156.569794 L 387.022546 156.274353 L 387.319737 155.060021 L 388.21131 154.640891 L 388.508501 155.364774 L 388.805692 155.192805 L 389.102883 155.630421 L 389.400074 154.677245 L 390.291647 157.487777 L 390.886029 156.064256 L 392.371984 163.122352 L 392.669175 163.216051 L 392.966366 164.344639 L 393.263556 168.72234 L 393.560747 163.19468 L 394.45232 158.20955 L 395.046702 164.140609 L 395.343893 168.293328 L 395.641084 166.502382 L 396.532657 166.111061 L 396.829848 166.309953 L 397.42423 163.637807 L 397.721421 165.460735 L 398.612994 164.223007 L 398.910185 163.540292 L 399.207376 162.033617 L 399.504567 163.373823 L 399.801758 162.248007 L 400.693331 163.157022 L 400.990522 161.431601 L 401.287713 162.168044 L 401.584903 164.170605 L 401.882094 163.061608 L 403.070858 160.307617 L 403.368049 158.624398 L 403.66524 159.375743 L 403.962431 158.208972 L 405.151195 154.806874 L 405.448386 154.390193 L 406.042768 151.392005 L 406.934341 151.287841 L 407.231532 149.747957 L 407.528723 149.102343 L 407.825914 148.104262 L 408.123105 149.772463 L 409.014678 150.833607 L 410.203441 154.622863 L 411.095014 151.391639 L 411.392205 149.717896 L 411.986587 148.235007 L 412.283778 148.578383 L 413.472542 146.360106 L 413.769733 147.219103 L 414.066924 146.707036 L 414.364115 147.397855 L 415.255688 144.426297 L 415.552879 144.571244 L 416.147261 141.929596 L 416.444452 141.359973 L 417.336025 141.309663 L 417.930407 142.288036 L 419.416361 146.193162 L 419.713552 146.59661 L 420.010743 146.376004 L 420.307934 145.552959 L 420.605125 146.439033 L 421.496698 147.326146 L 421.793889 147.787144 L 422.09108 147.587069 L 422.388271 147.989411 L 422.685462 147.446139 L 423.577035 148.309413 L 423.874226 146.183748 L 424.171417 147.228619 L 424.468608 147.516325 L 424.765799 148.63162 L 425.657372 148.93712 L 425.954563 150.485936 L 426.251754 149.914952 L 426.846136 153.737563 L 427.737708 155.172033 L 428.034899 153.714817 L 428.33209 152.985657 L 428.629281 153.369797 L 428.926472 154.394123 L 430.412427 151.264249 L 430.709618 148.936049 L 431.006809 149.065364 L 431.898382 154.501001 L 432.195573 153.164805 L 432.492764 154.476519 L 432.789955 156.327168 L 433.087146 157.07218 L 433.978719 153.181371 L 434.27591 154.353414 L 434.573101 154.731914 L 434.870292 152.550545 L 435.167483 152.790393 L 436.059055 155.427341 L 436.356246 155.923226 L 436.653437 155.894337 L 436.950628 156.337635 L 437.247819 156.051818 L 438.139392 160.409947 L 438.436583 160.396898 L 439.030965 162.653986 L 439.328156 162.039527 L 440.219729 163.915622 L 440.51692 165.865847 L 440.814111 164.842832 L 441.111302 165.329466 L 441.408493 162.308257 L 442.300066 158.482542 L 442.597257 156.544046 L 442.894448 157.976968 L 443.48883 157.123868 L 444.380402 157.114571 L 446.460739 163.549869 L 446.75793 163.41465 L 447.055121 163.919769 L 447.352312 165.863406 L 447.649503 168.866005 L 448.541076 169.471106 L 449.432649 164.865225 L 449.72984 159.678576 L 450.621413 157.20631 L 450.918604 157.066114 L 451.215795 159.135544 L 451.512986 159.078281 L 451.810177 159.418194 L 452.701749 155.923688 L 452.99894 155.531049 L 453.593322 152.606207 L 453.890513 154.611305 L 454.782086 148.687279 L 455.079277 148.383144 L 455.376468 151.141594 L 455.673659 150.94766 L 455.97085 149.232875 L 457.456805 149.548507 L 458.051187 148.196482 L 458.94276 147.290654 L 459.239951 146.462008 L 459.834333 148.520075 L 460.131524 148.212605 L 461.023097 145.498822 L 461.320287 145.370337 L 461.617478 143.765215 L 461.914669 143.198661 L 462.21186 141.599568 L 463.103433 140.675355 L 463.400624 141.13585 L 463.697815 141.072674 L 464.292197 142.773923 L 465.18377 141.183516 L 465.480961 139.476547 L 466.075343 138.049951 L 466.372534 137.826017 L 467.561298 140.566023 L 467.858489 140.848963 L 468.15568 142.719699 L 468.452871 140.869091 L 469.344444 140.670557 L 469.641634 140.305321 L 469.938825 142.190878 L 470.236016 141.925859 L 470.533207 140.786228 L 471.42478 142.58547 L 472.019162 144.901418 L 472.316353 144.890644 L 474.099499 136.645663 L 474.693881 133.398496 L 475.585454 131.891716 L 475.882645 131.060424 L 476.477027 134.171539 L 476.774218 133.066309 L 477.665791 135.979581 L 477.962982 138.094104 L 478.260172 138.04873 L 478.557363 138.259608 L 478.854554 140.247788 L 480.043318 139.346334 L 480.340509 138.045726 L 480.934891 139.701016 L 481.826464 142.111811 L 482.123655 142.292024 L 482.420846 142.201929 L 482.718037 141.474012 L 483.015228 141.754716 L 483.906801 141.66958 L 484.203992 141.426139 L 484.501183 141.379682 L 484.798374 140.571336 L 485.095565 140.233771 L 485.987138 142.486777 L 486.284329 142.291347 L 486.58152 145.007274 L 486.87871 141.938927 L 487.175901 140.196958 L 488.067474 138.304268 L 488.364665 139.398302 L 488.959047 140.151706 L 489.256238 139.753904 L 490.445002 137.372096 L 490.742193 137.450457 L 491.039384 138.141852 L 491.336575 137.345602 L 492.228148 137.023461 L 492.525339 136.713532 L 492.82253 134.380414 L 493.119721 134.900467 L 493.416912 134.296044 L 494.308485 134.109324 L 494.605676 134.877597 L 494.902867 133.863003 L 495.497248 135.886995 L 496.686012 137.994201 L 496.983203 138.703719 L 497.280394 140.515328 L 497.577585 140.470527 L 498.469158 145.435213 L 498.766349 145.906826 L 499.06354 147.007189 L 499.360731 147.104068 L 499.657922 145.14393 L 500.549495 145.808106 L 500.846686 144.715657 L 501.143877 144.163916 L 501.738259 145.683513 L 502.629832 145.528965 L 502.927023 143.382444 L 503.818595 141.688476 L 504.710168 136.919037 L 505.007359 138.655708 L 505.30455 137.870484 L 505.601741 136.032695 L 505.898932 135.274694 L 506.790505 137.357535 L 507.087696 134.493971 L 507.682078 135.763407 L 507.979269 135.12084 L 508.870842 136.079587 L 509.168033 137.563342 L 509.465224 137.05723 L 509.762415 138.246229 L 510.059606 138.799089 L 510.951179 137.989839 L 511.24837 136.624469 L 511.545561 137.361741 L 511.842752 135.141302 L 512.139943 133.955964 L 513.031515 131.39765 L 513.328706 135.357417 L 513.625897 130.291282 L 513.923088 130.336803 L 514.220279 130.613818 L 515.409043 135.13298 L 515.706234 135.109738 L 516.300616 138.158066 L 517.192189 139.108209 L 518.083762 136.87015 L 518.380953 137.532764 L 519.272526 134.552306 L 519.569717 135.395628 L 519.866908 136.941857 L 520.164099 133.343043 L 520.46129 133.829734 L 521.352862 132.508287 L 521.650053 131.861719 L 521.947244 132.210034 L 522.244435 132.075522 L 522.541626 132.526062 L 523.433199 132.146068 L 523.73039 130.401409 L 524.027581 130.081914 L 524.324772 129.927616 L 524.621963 129.576417 L 525.513536 124.731086 L 525.810727 126.475363 L 526.107918 124.696509 L 526.405109 126.176979 L 526.7023 125.674848 L 527.593873 127.893476 L 528.188255 130.922449 L 528.485446 129.506616 L 528.782637 126.331569 L 529.674209 123.771031 L 529.9714 120.660212 L 530.268591 119.545479 L 530.565782 120.12318 L 530.862973 122.187475 L 532.051737 132.872427 L 532.348928 132.448818 L 532.646119 131.790306 L 533.834883 126.646158 L 534.429265 126.184331 L 534.726456 125.097668 L 535.023647 123.471307 L 535.91522 120.67843 L 536.806793 119.631995 L 537.103984 117.658171 L 537.995556 117.732156 L 538.292747 117.609406 L 538.887129 118.44833 L 539.18432 116.187781 L 540.075893 118.829271 L 540.373084 117.149021 L 540.670275 120.471955 L 540.967466 120.723978 L 542.15623 123.444787 L 542.453421 125.143735 L 542.750612 124.440113 L 543.344994 119.347005 L 544.236567 114.579576 L 544.533758 116.216447 L 544.830949 112.925282 L 545.12814 111.358473 L 545.425331 111.853498 L 546.316903 109.490177 L 546.614094 108.111334 L 546.911285 108.415021 L 547.208476 108.886712 L 547.505667 107.751907 L 548.39724 109.601141 L 548.694431 109.751809 L 548.991622 109.705276 L 549.288813 110.663745 L 549.586004 110.363349 L 550.477577 110.62167 L 550.774768 111.205516 L 551.071959 111.137013 L 551.36915 110.374676 L 551.666341 110.939754 L 552.557914 106.838306 L 552.855105 106.899446 L 553.152296 105.60633 L 553.449487 106.463184 L 553.746678 106.625708 L 554.638251 106.858489 L 554.935441 106.385822 L 555.232632 107.422073 L 555.529823 109.26921 L 555.827014 108.267959 L 556.718587 107.917671 L 557.015778 106.240172 L 557.312969 107.494904 L 557.61016 106.894688 L 558.798924 102.612046 L 559.096115 100.669892 L 559.393306 96.54498 L 559.690497 95.773176 L 561.176452 93.421102 L 561.473643 93.451516 L 561.770834 91.469944 L 562.068025 93.093738 L 562.959598 93.372925 L 563.256789 91.780325 L 563.553979 88.880479 L 563.85117 88.664823 L 564.148361 87.460389 L 565.337125 83.636699 L 565.634316 83.912974 L 566.228698 83.437202 L 567.120271 81.821083 L 567.417462 82.466668 L 567.714653 80.720857 L 568.011844 82.28277 L 568.309035 79.102833 L 569.200608 80.721236 L 569.497799 83.871217 L 569.79499 84.950205 L 570.092181 82.799794 L 570.389372 84.467398 L 571.280945 83.270115 L 571.578136 87.794415 L 571.875326 88.728613 L 572.469708 92.682801 L 573.361281 94.617161 L 573.658472 93.133922 L 573.955663 90.401041 L 574.252854 92.441839 L 574.550045 92.823693 L 575.441618 94.67962 L 575.738809 96.703743 L 576.036 94.463602 L 576.333191 94.524363 L 576.630382 93.668392 L 577.521955 94.073588 L 577.819146 96.545045 L 578.116337 96.988354 L 578.413528 98.938116 L 578.710719 99.473152 L 579.602292 102.82589 L 579.899483 103.077327 L 580.493864 98.640779 L 580.791055 98.115593 L 581.682628 95.067253 L 581.979819 94.868569 L 582.27701 94.218231 L 582.574201 93.030119 L 583.762965 85.486349 L 584.060156 85.373505 L 584.357347 84.996974 L 584.654538 83.144069 L 584.951729 84.519151 L 585.843302 86.66831 L 586.140493 86.295593 L 587.032066 82.617425 L 587.923639 80.654478 L 588.22083 80.718775 L 588.518021 79.8875 L 589.112402 77.359993 L 590.301166 73.938711 L 590.598357 74.912703 L 590.895548 74.571076 L 591.192739 75.350913 L 592.084312 76.284915 L 593.273076 81.729007 L 594.164649 80.991623 L 594.46184 80.051181 L 594.759031 81.840241 L 595.056222 84.441679 L 596.244986 85.772337 L 596.839368 91.955841 L 597.136559 95.915345 L 597.433749 95.064894 L 598.622513 88.573085 L 598.919704 88.081246 L 599.216895 89.606517 L 599.216895 89.606517" clip-path="url(#p7041bff4be)" style="fill: none; stroke: #ff0000; stroke-width: 1.9; stroke-linecap: square"/>
   </g>
   <g id="line2d_23">
    <path d="M 599.216895 87.383032 L 618.882944 100.306358 L 652.704892 121.300758 L 707.700101 144.697263 L 816.1663 144.505095" clip-path="url(#p7041bff4be)" style="fill: none; stroke: #0000ff; stroke-width: 1.5; stroke-linecap: square"/>
   </g>
   <g id="patch_3">
    <path d="M 45 199.8 L 45 50.76" style="fill: none; stroke: #000000; stroke-width: 0.8; stroke-linejoin: miter; stroke-linecap: square"/>
   </g>
   <g id="patch_4">
    <path d="M 853.56 199.8 L 853.56 50.76" style="fill: none; stroke: #000000; stroke-width: 0.8; stroke-linejoin: miter; stroke-linecap: square"/>
   </g>
   <g id="patch_5">
    <path d="M 45 199.8 L 853.56 199.8" style="fill: none; stroke: #000000; stroke-width: 0.8; stroke-linejoin: miter; stroke-linecap: square"/>
   </g>
   <g id="patch_6">
    <path d="M 45 50.76 L 853.56 50.76" style="fill: none; stroke: #000000; stroke-width: 0.8; stroke-linejoin: miter; stroke-linecap: square"/>
   </g>
   <g id="text_13">
    <text style="font-size: 12px; font-family: 'DejaVu Sans', 'Liberation Sans', sans-serif; text-anchor: middle" x="449.28" y="44.76" transform="rotate(0 449.28 44.76)">powered by Predict-Price.com and MagicalPrediction.com and MagicalAnalysis.com</text>
   </g>
   <g id="legend_1">
    <g id="patch_7">
     <path d="M 52 149.02875 L 146.110938 149.02875 Q 148.110938 149.02875 148.110938 147.02875 L 148.110938 57.76 Q 148.110938 55.76 146.110938 55.76 L 52 55.76 Q 50 55.76 50 57.76 L 50 147.02875 Q 50 149.02875 52 149.02875 z" style="fill: #ffffff; opacity: 0.8; stroke: #cccccc; stroke-linejoin: miter"/>
    </g>
    <g id="line2d_24" transform="translate(-0.58 0)">
     <path d="M 54 63.858438 L 64 63.858438 L 74 63.858438" style="fill: none; stroke: #008000; stroke-width: 1.5; stroke-linecap: square"/>
    </g>
    <g id="text_14">
     <text style="font-size: 10px; font-family: 'DejaVu Sans', 'Liberation Sans', sans-serif; text-anchor: start" x="82" y="67.358438" transform="rotate(0 82 67.358438)">High</text>
    </g>
    <g id="line2d_25" transform="translate(-0.58 0)">
     <path d="M 54 78.976563 L 64 78.976563 L 74 78.976563" style="fill: none; stroke: #ff0000; stroke-width: 1.5; stroke-linecap: square"/>
    </g>
    <g id="text_15">
     <text style="font-size: 10px; font-family: 'DejaVu Sans', 'Liberation Sans', sans-serif; text-anchor: start" x="82" y="82.476563" transform="rotate(0 82 82.476563)">Low</text>
    </g>
    <g id="line2d_26" transform="translate(-0.58 0)">
     <path d="M 54 94.094688 L 64 94.094688 L 74 94.094688" style="fill: none; stroke: #0000ff; stroke-width: 1.5; stroke-linecap: square"/>
    </g>
    <g id="text_16">
     <text style="font-size: 10px; font-family: 'DejaVu Sans', 'Liberation Sans', sans-serif; text-anchor: start" x="82" y="97.594688" transform="rotate(0 82 97.594688)">Close</text>
    </g>
    <g id="patch_8" transform="translate(-0.58 0)">
     <path d="M 54 112.712813 L 74 112.712813 L 74 105.712813 L 54 105.712813 z" style="fill: #008000; fill-opacity: 0.25"/>
    </g>
    <g id="text_17">
     <text style="font-size: 10px; font-family: 'DejaVu Sans', 'Liberation Sans', sans-serif; text-anchor: start" x="82" y="112.712813" transform="rotate(0 82 112.712813)">High Range</text>
    </g>
    <g id="patch_9" transform="translate(-0.58 0)">
     <path d="M 54 127.830938 L 74 127.830938 L 74 120.830938 L 54 120.830938 z" style="fill: #ff0000; fill-opacity: 0.25"/>
    </g>
    <g id="text_18">
     <text style="font-size: 10px; font-family: 'DejaVu Sans', 'Liberation Sans', sans-serif; text-anchor: start" x="82" y="127.830938" transform="rotate(0 82 127.830938)">Low Range</text>
    </g>
    <g id="patch_10" transform="translate(-0.58 0)">
     <path d="M 54 142.949063 L 74 142.949063 L 74 135.949063 L 54 135.949063 z" style="fill: #0000ff; fill-opacity: 0.5"/>
    </g>
    <g id="text_19">
     <text style="font-size: 10px; font-family: 'DejaVu Sans', 'Liberation Sans', sans-serif; text-anchor: start" x="82" y="142.949063" transform="rotate(0 82 142.949063)">Close Range</text>
    </g>
   </g>
  </g>
  <g id="axes_2">
   <g id="patch_11">
    <path d="M 45 390.6 L 853.56 390.6 L 853.56 241.56 L 45 241.56 z" style="fill: #ffffff"/>
   </g>
   <g id="FillBetweenPolyCollection_4">
    <path d="M 81.4248 248.688 L 81.4248 248.688 L 148.032 262.872 L 262.584 282.744 L 448.848 308.16 L 816.2136 310.248 L 816.2136 278.208 L 816.2136 278.208 L 448.848 273.6 L 262.584 248.4 L 148.032 248.688 L 81.4248 248.688 z" clip-path="url(#p1f9ef02254)" style="fill: #008000; fill-opacity: 0.25"/>
   </g>
   <g id="FillBetweenPolyCollection_5">
    <path d="M 81.4248 248.688 L 81.4248 248.688 L 148.032 282.384 L 262.584 332.064 L 448.848 357.48 L 816.2136 383.04 L 816.2136 340.2 L 816.2136 340.2 L 448.848 335.016 L 262.584 309.24 L 148.032 273.528 L 81.4248 248.688 z" clip-path="url(#p1f9ef02254)" style="fill: #ff0000; fill-opacity: 0.25"/>
   </g>
   <g id="FillBetweenPolyCollection_6">
    <path d="M 81.4248 248.688 L 81.4248 248.688 L 148.032 273.528 L 262.584 309.24 L 448.848 335.016 L 816.2136 340.2 L 816.2136 310.248 L 816.2136 310.248 L 448.848 308.16 L 262.584 282.744 L 148.032 262.872 L 81.4248 248.688 z" clip-path="url(#p1f9ef02254)" style="fill: #0000ff; fill-opacity: 0.5"/>
   </g>
   <g id="matplotlib.axis_3">
    <g id="xtick_8">
     <g id="line2d_27">
      <path d="M 93.96 390.6 L 93.96 241.56" clip-path="url(#p1f9ef02254)" style="fill: none; stroke: #b0b0b0; stroke-width: 0.8; stroke-linecap: square"/>
     </g>
     <g id="line2d_28">
      <g>
       <use href="#ma3ecc90616" x="93.96" y="390.6" style="stroke: #000000; stroke-width: 0.8"/>
      </g>
     </g>
     <g id="text_20">
      <text style="font-size: 10px; font-family: 'DejaVu Sans', 'Liberation Sans', sans-serif; text-anchor: middle" x="93.50352" y="405.198438" transform="rotate(0 93.50352 405.198438)">2025-04</text>
     </g>
    </g>
    <g id="xtick_9">
     <g id="line2d_29">
      <path d="M 185.4 390.6 L 185.4 241.56" clip-path="url(#p1f9ef02254)" style="fill: none; stroke: #b0b0b0; stroke-width: 0.8; stroke-linecap: square"/>
     </g>
     <g id="line2d_30">
      <g>
       <use href="#ma3ecc90616" x="185.4" y="390.6" style="stroke: #000000; stroke-width: 0.8"/>
      </g>
     </g>
     <g id="text_21">
      <text style="font-size: 10px; font-family: 'DejaVu Sans', 'Liberation Sans', sans-serif; text-anchor: middle" x="185.10048" y="405.198438" transform="rotate(0 185.10048 405.198438)">2025-07</text>
     </g>
    </g>
    <g id="xtick_10">
     <g id="line2d_31">
      <path d="M 278.28 390.6 L 278.28 241.56" clip-path="url(#p1f9ef02254)" style="fill: none; stroke: #b0b0b0; stroke-width: 0.8; stroke-linecap: square"/>
     </g>
     <g id="line2d_32">
      <g>
       <use href="#ma3ecc90616" x="278.28" y="390.6" style="stroke: #000000; stroke-width: 0.8"/>
      </g>
     </g>
     <g id="text_22">
      <text style="font-size: 10px; font-family: 'DejaVu Sans', 'Liberation Sans', sans-serif; text-anchor: middle" x="277.704" y="405.198438" transform="rotate(0 277.704 405.198438)">2025-10</text>
     </g>
    </g>
    <g id="xtick_11">
     <g id="line2d_33">
      <path d="M 370.44 390.6 L 370.44 241.56" clip-path="url(#p1f9ef02254)" style="fill: none; stroke: #b0b0b0; stroke-width: 0.8; stroke-linecap: square"/>
     </g>
     <g id="line2d_34">
      <g>
       <use href="#ma3ecc90616" x="370.44" y="390.6" style="stroke: #000000; stroke-width: 0.8"/>
      </g>
     </g>
     <g id="text_23">
      <text style="font-size: 10px; font-family: 'DejaVu Sans', 'Liberation Sans', sans-serif; text-anchor: middle" x="370.30752" y="405.198438" transform="rotate(0 370.30752 405.198438)">2026-01</text>
     </g>
    </g>
    <g id="xtick_12">
     <g id="line2d_35">
      <path d="M 461.16 390.6 L 461.16 241.56" clip-path="url(#p1f9ef02254)" style="fill: none; stroke: #b0b0b0; stroke-width: 0.8; stroke-linecap: square"/>
     </g>
     <g id="line2d_36">
      <g>
       <use href="#ma3ecc90616" x="461.16" y="390.6" style="stroke: #000000; stroke-width: 0.8"/>
      </g>
     </g>
     <g id="text_24">
      <text style="font-size: 10px; font-family: 'DejaVu Sans', 'Liberation Sans', sans-serif; text-anchor: middle" x="460.89792" y="405.198438" transform="rotate(0 460.89792 405.198438)">2026-04</text>
     </g>
    </g>
    <g id="xtick_13">
     <g id="line2d_37">
      <path d="M 552.6 390.6 L 552.6 241.56" clip-path="url(#p1f9ef02254)" style="fill: none; stroke: #b0b0b0; stroke-width: 0.8; stroke-linecap: square"/>
     </g>
     <g id="line2d_38">
      <g>
       <use href="#ma3ecc90616" x="552.6" y="390.6" style="stroke: #000000; stroke-width: 0.8"/>
      </g>
     </g>
     <g id="text_25">
      <text style="font-size: 10px; font-family: 'DejaVu Sans', 'Liberation Sans', sans-serif; text-anchor: middle" x="552.49488" y="405.198438" transform="rotate(0 552.49488 405.198438)">2026-07</text>
     </g>
    </g>
    <g id="xtick_14">
     <g id="line2d_39">
      <path d="M 645.48 390.6 L 645.48 241.56" clip-path="url(#p1f9ef02254)" style="fill: none; stroke: #b0b0b0; stroke-width: 0.8; stroke-linecap: square"/>
     </g>
     <g id="line2d_40">
      <g>
       <use href="#ma3ecc90616" x="645.48" y="390.6" style="stroke: #000000; stroke-width: 0.8"/>
      </g>
     </g>
     <g id="text_26">
      <text style="font-size: 10px; font-family: 'DejaVu Sans', 'Liberation Sans', sans-serif; text-anchor: middle" x="645.0984" y="405.198438" transform="rotate(0 645.0984 405.198438)">2026-10</text>
     </g>
    </g>
    <g id="xtick_15">
     <g id="line2d_41">
      <path d="M 738.36 390.6 L 738.36 241.56" clip-path="url(#p1f9ef02254)" style="fill: none; stroke: #b0b0b0; stroke-width: 0.8; stroke-linecap: square"/>
     </g>
     <g id="line2d_42">
      <g>
       <use href="#ma3ecc90616" x="738.36" y="390.6" style="stroke: #000000; stroke-width: 0.8"/>
      </g>
     </g>
     <g id="text_27">
      <text style="font-size: 10px; font-family: 'DejaVu Sans', 'Liberation Sans', sans-serif; text-anchor: middle" x="737.70192" y="405.198438" transform="rotate(0 737.70192 405.198438)">2027-01</text>
     </g>
    </g>
    <g id="xtick_16">
     <g id="line2d_43">
      <path d="M 828.36 390.6 L 828.36 241.56" clip-path="url(#p1f9ef02254)" style="fill: none; stroke: #b0b0b0; stroke-width: 0.8; stroke-linecap: square"/>
     </g>
     <g id="line2d_44">
      <g>
       <use href="#ma3ecc90616" x="828.36" y="390.6" style="stroke: #000000; stroke-width: 0.8"/>
      </g>
     </g>
     <g id="text_28">
      <text style="font-size: 10px; font-family: 'DejaVu Sans', 'Liberation Sans', sans-serif; text-anchor: middle" x="828.29232" y="405.198438" transform="rotate(0 828.29232 405.198438)">2027-04</text>
     </g>
    </g>
    <g id="text_29">
     <text style="font-size: 10px; font-family: 'DejaVu Sans', 'Liberation Sans', sans-serif; text-anchor: middle" x="449.28" y="418.876562" transform="rotate(0 449.28 418.876562)">Date</text>
    </g>
   </g>
   <g id="matplotlib.axis_4">
    <g id="ytick_4">
     <g id="line2d_45">
      <path d="M 45 385.56 L 853.56 385.56" clip-path="url(#p1f9ef02254)" style="fill: none; stroke: #b0b0b0; stroke-width: 0.8; stroke-linecap: square"/>
     </g>
     <g id="line2d_46">
      <g>
       <use href="#mb44dbf841d" x="45" y="385.56" style="stroke: #000000; stroke-width: 0.8"/>
      </g>
     </g>
     <g id="text_30">
      <text style="font-size: 10px; font-family: 'DejaVu Sans', 'Liberation Sans', sans-serif; text-anchor: end" x="38" y="389.575219" transform="rotate(0 38 389.575219)">24</text>
     </g>
    </g>
    <g id="ytick_5">
     <g id="line2d_47">
      <path d="M 45 361.08 L 853.56 361.08" clip-path="url(#p1f9ef02254)" style="fill: none; stroke: #b0b0b0; stroke-width: 0.8; stroke-linecap: square"/>
     </g>
     <g id="line2d_48">
      <g>
       <use href="#mb44dbf841d" x="45" y="361.08" style="stroke: #000000; stroke-width: 0.8"/>
      </g>
     </g>
     <g id="text_31">
      <text style="font-size: 10px; font-family: 'DejaVu Sans', 'Liberation Sans', sans-serif; text-anchor: end" x="38" y="364.951219" transform="rotate(0 38 364.951219)">26</text>
     </g>
    </g>
    <g id="ytick_6">
     <g id="line2d_49">
      <path d="M 45 335.88 L 853.56 335.88" clip-path="url(#p1f9ef02254)" style="fill: none; stroke: #b0b0b0; stroke-width: 0.8; stroke-linecap: square"/>
     </g>
     <g id="line2d_50">
      <g>
       <use href="#mb44dbf841d" x="45" y="335.88" style="stroke: #000000; stroke-width: 0.8"/>
      </g>
     </g>
     <g id="text_32">
      <text style="font-size: 10px; font-family: 'DejaVu Sans', 'Liberation Sans', sans-serif; text-anchor: end" x="38" y="340.327219" transform="rotate(0 38 340.327219)">28</text>
     </g>
    </g>
    <g id="ytick_7">
     <g id="line2d_51">
      <path d="M 45 311.4 L 853.56 311.4" clip-path="url(#p1f9ef02254)" style="fill: none; stroke: #b0b0b0; stroke-width: 0.8; stroke-linecap: square"/>
     </g>
     <g id="line2d_52">
      <g>
       <use href="#mb44dbf841d" x="45" y="311.4" style="stroke: #000000; stroke-width: 0.8"/>
      </g>
     </g>
     <g id="text_33">
      <text style="font-size: 10px; font-family: 'DejaVu Sans', 'Liberation Sans', sans-serif; text-anchor: end" x="38" y="315.703219" transform="rotate(0 38 315.703219)">30</text>
     </g>
    </g>
    <g id="ytick_8">
     <g id="line2d_53">
      <path d="M 45 286.92 L 853.56 286.92" clip-path="url(#p1f9ef02254)" style="fill: none; stroke: #b0b0b0; stroke-width: 0.8; stroke-linecap: square"/>
     </g>
     <g id="line2d_54">
      <g>
       <use href="#mb44dbf841d" x="45" y="286.92" style="stroke: #000000; stroke-width: 0.8"/>
      </g>
     </g>
     <g id="text_34">
      <text style="font-size: 10px; font-family: 'DejaVu Sans', 'Liberation Sans', sans-serif; text-anchor: end" x="38" y="291.079219" transform="rotate(0 38 291.079219)">32</text>
     </g>
    </g>
    <g id="ytick_9">
     <g id="line2d_55">
      <path d="M 45 262.44 L 853.56 262.44" clip-path="url(#p1f9ef02254)" style="fill: none; stroke: #b0b0b0; stroke-width: 0.8; stroke-linecap: square"/>
     </g>
     <g id="line2d_56">
      <g>
       <use href="#mb44dbf841d" x="45" y="262.44" style="stroke: #000000; stroke-width: 0.8"/>
      </g>
     </g>
     <g id="text_35">
      <text style="font-size: 10px; font-family: 'DejaVu Sans', 'Liberation Sans', sans-serif; text-anchor: end" x="38" y="266.455219" transform="rotate(0 38 266.455219)">34</text>
     </g>
    </g>
    <g id="text_36">
     <g transform="translate(0.144 1.08)"><text style="font-size: 10px; font-family: 'DejaVu Sans', 'Liberation Sans', sans-serif; text-anchor: middle" x="19.195312" y="316.08" transform="rotate(-90 19.195312 316.08)">Price</text></g>
    </g>
   </g>
   <g id="line2d_57"/>
   <g id="line2d_58"/>
   <g id="line2d_59">
    <path d="M 81.4248 248.688 L 148.032 268.056 L 262.584 299.52 L 448.848 334.584 L 816.2136 334.296" clip-path="url(#p1f9ef02254)" style="fill: none; stroke: #0000ff; stroke-width: 1.5; stroke-linecap: square"/>
   </g>
   <g id="patch_12">
    <path d="M 45 390.6 L 45 241.56" style="fill: none; stroke: #000000; stroke-width: 0.8; stroke-linejoin: miter; stroke-linecap: square"/>
   </g>
   <g id="patch_13">
    <path d="M 853.56 390.6 L 853.56 241.56" style="fill: none; stroke: #000000; stroke-width: 0.8; stroke-linejoin: miter; stroke-linecap: square"/>
   </g>
   <g id="patch_14">
    <path d="M 45 390.6 L 853.56 390.6" style="fill: none; stroke: #000000; stroke-width: 0.8; stroke-linejoin: miter; stroke-linecap: square"/>
   </g>
   <g id="patch_15">
    <path d="M 45 241.56 L 853.56 241.56" style="fill: none; stroke: #000000; stroke-width: 0.8; stroke-linejoin: miter; stroke-linecap: square"/>
   </g>
   <g id="legend_2">
    <g id="patch_16">
     <path d="M 52 339.82875 L 146.110938 339.82875 Q 148.110938 339.82875 148.110938 337.82875 L 148.110938 248.56 Q 148.110938 246.56 146.110938 246.56 L 52 246.56 Q 50 246.56 50 248.56 L 50 337.82875 Q 50 339.82875 52 339.82875 z" style="fill: #ffffff; opacity: 0.8; stroke: #cccccc; stroke-linejoin: miter"/>
    </g>
    <g id="line2d_60" transform="translate(-0.58 0)">
     <path d="M 54 254.658437 L 64 254.658437 L 74 254.658437" style="fill: none; stroke: #008000; stroke-width: 1.5; stroke-linecap: square"/>
    </g>
    <g id="text_37">
     <text style="font-size: 10px; font-family: 'DejaVu Sans', 'Liberation Sans', sans-serif; text-anchor: start" x="82" y="258.158437" transform="rotate(0 82 258.158437)">High</text>
    </g>
    <g id="line2d_61" transform="translate(-0.58 0)">
     <path d="M 54 269.776563 L 64 269.776563 L 74 269.776563" style="fill: none; stroke: #ff0000; stroke-width: 1.5; stroke-linecap: square"/>
    </g>
    <g id="text_38">
     <text style="font-size: 10px; font-family: 'DejaVu Sans', 'Liberation Sans', sans-serif; text-anchor: start" x="82" y="273.276563" transform="rotate(0 82 273.276563)">Low</text>
    </g>
    <g id="line2d_62" transform="translate(-0.58 0)">
     <path d="M 54 284.894688 L 64 284.894688 L 74 284.894688" style="fill: none; stroke: #0000ff; stroke-width: 1.5; stroke-linecap: square"/>
    </g>
    <g id="text_39">
     <text style="font-size: 10px; font-family: 'DejaVu Sans', 'Liberation Sans', sans-serif; text-anchor: start" x="82" y="288.394688" transform="rotate(0 82 288.394688)">Close</text>
    </g>
    <g id="patch_17" transform="translate(-0.58 0)">
     <path d="M 54 303.512812 L 74 303.512812 L 74 296.512812 L 54 296.512812 z" style="fill: #008000; fill-opacity: 0.25"/>
    </g>
    <g id="text_40">
     <text style="font-size: 10px; font-family: 'DejaVu Sans', 'Liberation Sans', sans-serif; text-anchor: start" x="82" y="303.512812" transform="rotate(0 82 303.512812)">High Range</text>
    </g>
    <g id="patch_18" transform="translate(-0.58 0)">
     <path d="M 54 318.630938 L 74 318.630938 L 74 311.630938 L 54 311.630938 z" style="fill: #ff0000; fill-opacity: 0.25"/>
    </g>
    <g id="text_41">
     <text style="font-size: 10px; font-family: 'DejaVu Sans', 'Liberation Sans', sans-serif; text-anchor: start" x="82" y="318.630938" transform="rotate(0 82 318.630938)">Low Range</text>
    </g>
    <g id="patch_19" transform="translate(-0.58 0)">
     <path d="M 54 333.749063 L 74 333.749063 L 74 326.749063 L 54 326.749063 z" style="fill: #0000ff; fill-opacity: 0.5"/>
    </g>
    <g id="text_42">
     <text style="font-size: 10px; font-family: 'DejaVu Sans', 'Liberation Sans', sans-serif; text-anchor: start" x="82" y="333.749063" transform="rotate(0 82 333.749063)">Close Range</text>
    </g>
   </g>
  </g>
  <g id="text_43">
   <text style="font-size: 12px; font-family: 'DejaVu Sans', 'Liberation Sans', sans-serif; text-anchor: middle" x="432" y="17.758125" transform="rotate(0 432 17.758125)">EWCO (EWCO) long term price prediction : 2025,2026,2027 (Mar 20)</text>
  </g>
  <g id="text_44">
   <text style="font-size: 30px; font-family: 'DejaVu Sans', 'Liberation Sans', sans-serif; text-anchor: middle; fill: #808080; opacity: 0.075" x="287.712" y="332.854125" transform="rotate(0 287.712 332.854125)">Predict-Price.com</text>
  </g>
  <g id="text_45">
   <text style="font-size: 30px; font-family: 'DejaVu Sans', 'Liberation Sans', sans-serif; text-anchor: middle; fill: #808080; opacity: 0.075" x="287.712" y="224.854125" transform="rotate(0 287.712 224.854125)">Predict-Price.com</text>
  </g>
  <g id="text_46">
   <text style="font-size: 30px; font-family: 'DejaVu Sans', 'Liberation Sans', sans-serif; text-anchor: middle; fill: #808080; opacity: 0.075" x="287.712" y="116.854125" transform="rotate(0 287.712 116.854125)">Predict-Price.com</text>
  </g>
  <g id="text_47">
   <text style="font-size: 30px; font-family: 'DejaVu Sans', 'Liberation Sans', sans-serif; text-anchor: middle; fill: #808080; opacity: 0.075" x="575.712" y="332.854125" transform="rotate(0 575.712 332.854125)">Predict-Price.com</text>
  </g>
  <g id="text_48">
   <text style="font-size: 30px; font-family: 'DejaVu Sans', 'Liberation Sans', sans-serif; text-anchor: middle; fill: #808080; opacity: 0.075" x="575.712" y="224.854125" transform="rotate(0 575.712 224.854125)">Predict-Price.com</text>
  </g>
  <g id="text_49">
   <text style="font-size: 30px; font-family: 'DejaVu Sans', 'Liberation Sans', sans-serif; text-anchor: middle; fill: #808080; opacity: 0.075" x="575.712" y="116.854125" transform="rotate(0 575.712 116.854125)">Predict-Price.com</text>
  </g>
 </g>
 <defs>
  <clipPath id="p7041bff4be">
   <rect x="45" y="50.76" width="808.56" height="149.04"/>
  </clipPath>
  <clipPath id="p1f9ef02254">
   <rect x="45" y="241.56" width="808.56" height="149.04"/>
  </clipPath>
 </defs>
</svg>

</body></html>
